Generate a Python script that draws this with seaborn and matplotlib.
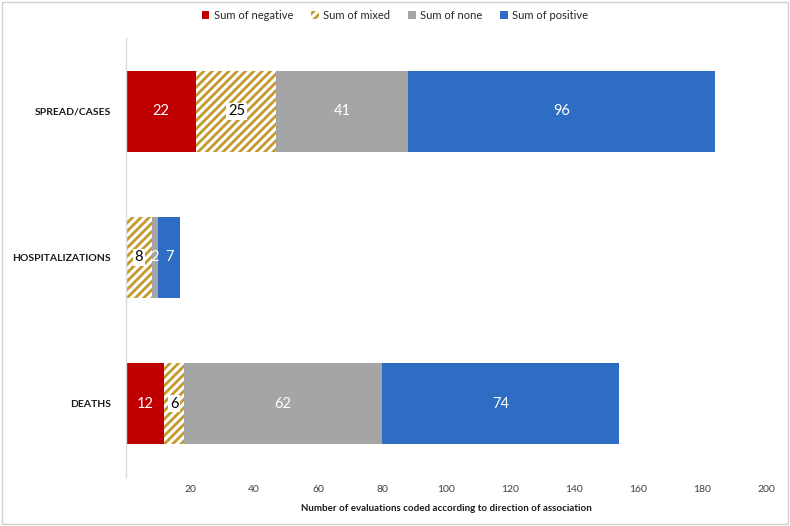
import numpy as np
import pandas as pd
import seaborn as sns
import matplotlib.pyplot as plt
from matplotlib.patches import Patch, Rectangle

# data
categories = ["SPREAD/CASES", "HOSPITALIZATIONS", "DEATHS"]
negative = [22, 0, 12]
mixed = [25, 8, 6]
none = [41, 2, 62]
positive = [96, 7, 74]

series_names = ["Sum of negative", "Sum of mixed", "Sum of none", "Sum of positive"]
colors = ["#C00000", "#FFFFFF", "#A5A5A5", "#2E6DC4"]
hatch_gold = "#C49A2C"

sns.set_theme(style="white")
plt.rcParams["font.family"] = ["Lato", "DejaVu Sans"]
plt.rcParams["hatch.linewidth"] = 2.0
plt.rcParams["hatch.color"] = hatch_gold

df = pd.DataFrame({
    "category": categories,
    "negative": negative,
    "mixed": mixed,
    "none": none,
    "positive": positive,
})
cols = ["negative", "mixed", "none", "positive"]
cum = df[cols].cumsum(axis=1)

fig = plt.figure(figsize=(7.9, 5.26), dpi=100)
ax = fig.add_axes([0.1595, 0.0932, 0.8101, 0.8346])

# overlay cumulative totals, widest first
for i in range(3, -1, -1):
    plot_df = pd.DataFrame({"category": categories, "value": cum[cols[i]]})
    kw = dict(data=plot_df, x="value", y="category", order=categories, orient="h",
              width=0.555, errorbar=None, ax=ax, linewidth=0)
    if cols[i] == "mixed":
        sns.barplot(color="white", hatch="////", edgecolor=hatch_gold, saturation=1, **kw)
    else:
        sns.barplot(color=colors[i], saturation=1, **kw)

# value labels
for r in range(len(categories)):
    left = 0
    for i, c in enumerate(cols):
        v = df.loc[r, c]
        if v > 0:
            xc = left + v / 2
            if c == "mixed":
                ax.text(xc, r, str(v), ha="center", va="center", fontsize=10.5, color="black",
                        bbox=dict(facecolor="white", edgecolor="none", pad=1.2))
            else:
                ax.text(xc, r, str(v), ha="center", va="center", fontsize=10.5, color="white")
        left += v

ax.set_xlim(0, 200)
ax.set_ylim(2.5, -0.5)
ax.set_xticks(range(20, 201, 20))
ax.tick_params(axis="x", length=0, labelsize=7.5, colors="#404040", pad=6)
ax.tick_params(axis="y", length=0, labelsize=7.5, pad=11)
for lab in ax.get_yticklabels():
    lab.set_fontweight("bold")
    lab.set_color("#1a1a1a")
ax.set_ylabel("")
ax.set_xlabel("Number of evaluations coded according to direction of association",
              fontsize=7, fontweight="bold", color="#1a1a1a", labelpad=7)
for s in ["top", "right", "bottom"]:
    ax.spines[s].set_visible(False)
ax.spines["left"].set_color("#D9D9D9")
ax.spines["left"].set_linewidth(1)

handles = []
for name, col in zip(series_names, colors):
    if name == "Sum of mixed":
        handles.append(Patch(facecolor="white", hatch="////", edgecolor=hatch_gold, linewidth=0, label=name))
    else:
        handles.append(Patch(facecolor=col, edgecolor="none", label=name))
fig.legend(handles=handles, loc="upper center", bbox_to_anchor=(0.5, 1.0), ncol=4,
           frameon=False, fontsize=8, handlelength=0.7, handleheight=0.7,
           handletextpad=0.4, columnspacing=1.6)

# chart border
fig.patches.append(Rectangle((0.003, 0.004), 0.994, 0.992, transform=fig.transFigure,
                             fill=False, edgecolor="#D0D0D0", linewidth=1))

fig.savefig("out.png", dpi=100)
